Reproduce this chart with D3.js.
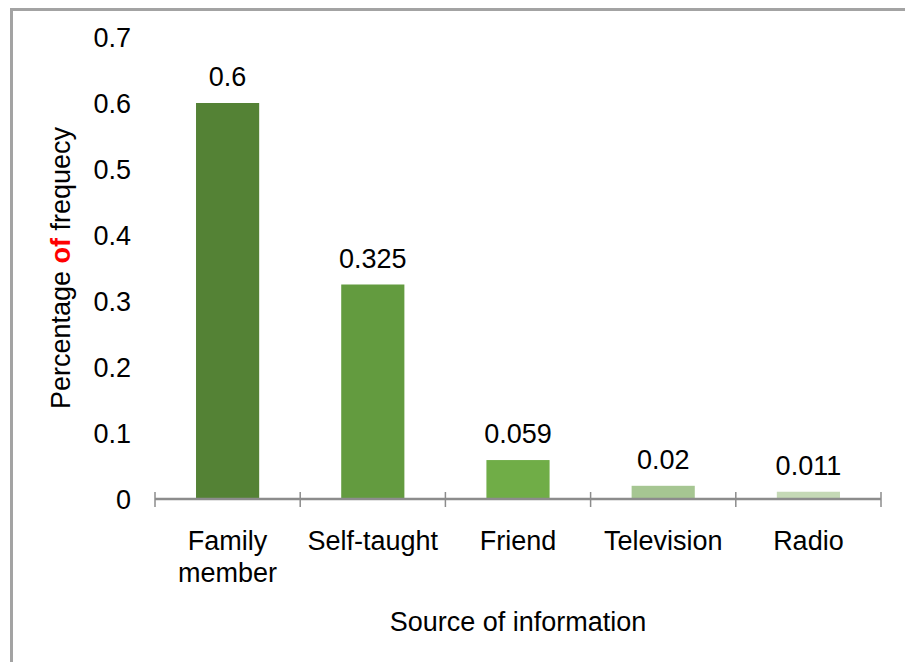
<!DOCTYPE html>
<html>
<head>
<meta charset="utf-8">
<script src="https://cdn.jsdelivr.net/npm/d3@7"></script>
<style>
  body { margin: 0; background: #fff; }
  svg { display: block; font-family: "Liberation Sans", Arial, sans-serif; }
</style>
</head>
<body>
<div id="chart"></div>
<script>
"use strict"

// chart data
const categories = [["Family", "member"], ["Self-taught"], ["Friend"], ["Television"], ["Radio"]];
const values = [0.6, 0.325, 0.059, 0.02, 0.011];
const value_labels = ["0.6", "0.325", "0.059", "0.02", "0.011"];
const bar_colors = ["#548235", "#639b3f", "#70ad47", "#a6c692", "#c5d9b6"];
const y_ticks = [0, 0.1, 0.2, 0.3, 0.4, 0.5, 0.6, 0.7];

const width = 905, height = 662;

const svg = d3.select("#chart").append("svg")
    .attr("width", width)
    .attr("height", height);

//outer frame of the chart (right and bottom edges are cut off)
svg.append("path")
    .attr("d", "M11.5," + (height + 5) + "V9.5H" + (width + 5))
    .attr("fill", "none")
    .attr("stroke", "#a3a3a3")
    .attr("stroke-width", 3);

//scales
const x = d3.scaleBand()
    .domain(d3.range(categories.length))
    .range([155, 881])
    .paddingInner(0.565)
    .paddingOuter(0.2825);

const y = d3.scaleLinear()
    .domain([0, 0.7])
    .range([499, 37]);

//y tick labels (no axis line in the reference)
svg.append("g").selectAll("text")
    .data(y_ticks)
    .join("text")
    .attr("x", 131)
    .attr("y", d => y(d))
    .attr("dy", "0.36em")
    .attr("text-anchor", "end")
    .attr("font-size", 27)
    .attr("fill", "#000")
    .text(d => d3.format("")(d));

//bars
svg.append("g").selectAll("rect")
    .data(values)
    .join("rect")
    .attr("x", (d, i) => x(i))
    .attr("width", x.bandwidth())
    .attr("y", d => y(d))
    .attr("height", d => y(0) - y(d))
    .attr("fill", (d, i) => bar_colors[i]);

//data labels above bars
svg.append("g").selectAll("text")
    .data(values)
    .join("text")
    .attr("x", (d, i) => x(i) + x.bandwidth() / 2)
    .attr("y", d => y(d) - 17)
    .attr("text-anchor", "middle")
    .attr("font-size", 27)
    .attr("fill", "#000")
    .text((d, i) => value_labels[i]);

//category axis line and tick marks between the categories
const x_axis = svg.append("g");
x_axis.append("line")
    .attr("x1", 155).attr("x2", 881)
    .attr("y1", y(0)).attr("y2", y(0))
    .attr("stroke", "#8c8c8c")
    .attr("stroke-width", 2.5);

const tick_pos = d3.range(categories.length + 1).map(i => 155 + i * x.step());
x_axis.selectAll("line.tick")
    .data(tick_pos)
    .join("line")
    .attr("class", "tick")
    .attr("x1", d => d).attr("x2", d => d)
    .attr("y1", y(0) - 7).attr("y2", y(0) + 8)
    .attr("stroke", "#8c8c8c")
    .attr("stroke-width", 1.5);

//category labels, wrapped onto lines
const cat_text = svg.append("g").selectAll("text")
    .data(categories)
    .join("text")
    .attr("text-anchor", "middle")
    .attr("font-size", 27)
    .attr("fill", "#000");

cat_text.selectAll("tspan")
    .data((d, i) => d.map(line => ({ line, i })))
    .join("tspan")
    .attr("x", d => x(d.i) + x.bandwidth() / 2)
    .attr("y", (d, j) => 550 + j * 32)
    .text(d => d.line);

//axis titles
svg.append("text")
    .attr("x", 518)
    .attr("y", 631)
    .attr("text-anchor", "middle")
    .attr("font-size", 27)
    .attr("fill", "#000")
    .text("Source of information");

const y_title = svg.append("text")
    .attr("transform", "translate(70,268) rotate(-90)")
    .attr("text-anchor", "middle")
    .attr("font-size", 27);

y_title.append("tspan").attr("fill", "#000").text("Percentage ");
y_title.append("tspan").attr("fill", "#ff0000").attr("font-weight", "bold").text("of");
y_title.append("tspan").attr("fill", "#000").text(" frequecy");
</script>
</body>
</html>
